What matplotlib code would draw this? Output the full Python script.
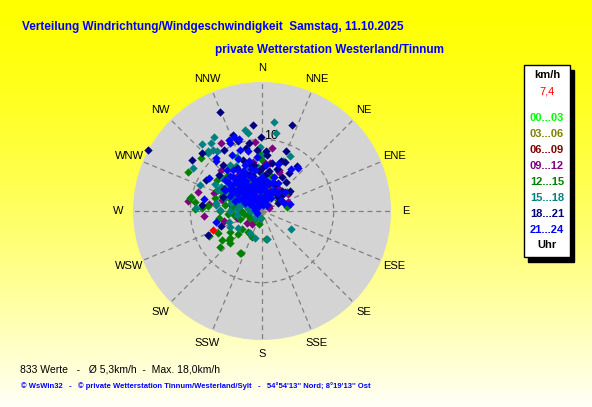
import matplotlib.pyplot as plt
import matplotlib.patches as patches
import numpy as np

# wind direction (deg, from north clockwise) and speed (km/h), grouped by hour
dir_09_12 = [354, 329, 9, 287, 278, 265, 57, 22, 277, 218, 253, 56, 3, 23, 65, 255, 233,
             305, 325, 350, 290, 270, 340, 10, 300, 280, 20, 255, 315, 70, 310, 330, 320, 0,
             295, 345, 285, 35, 15]
spd_09_12 = [9.7, 11.0, 8.9, 9.3, 10.5, 8.1, 4.4, 6.2, 7.5, 2.3, 3.5, 1.2, 6.7, 5.9, 1.1, 3.6, 2.7,
             3.5, 6.0, 7.0, 7.2, 3.0, 2.8, 6.8, 5.8, 4.2, 3.8, 5.5, 8.0, 3.8, 3.0, 3.5, 5.8, 2.5,
             2.2, 4.4, 5.8, 4.0, 3.2]

dir_12_15 = [311, 298, 278, 273, 261, 244, 229, 229, 208, 171, 193, 80, 207, 225, 234, 230, 202,
             245, 272, 280, 215, 228, 237, 262, 56, 358, 52, 296, 281, 295, 226, 207, 359,
             290, 285, 280, 295, 300, 305, 315, 270, 265, 275, 310, 320, 260, 250, 340, 0, 15,
             285, 275, 290, 300, 270, 255, 310, 280, 240, 220, 190, 300, 330]
spd_12_15 = [11.3, 11.7, 9.5, 8.4, 6.1, 6.9, 7.7, 6.1, 6.6, 3.9, 1.8, 3.6, 6.5, 6.3, 6.9, 5.9, 3.9,
             8.1, 9.3, 10.2, 3.5, 3.8, 5.3, 4.0, 2.7, 8.0, 4.4, 6.0, 10.1, 7.0, 4.6, 3.6, 7.3,
             6.0, 6.8, 5.2, 4.2, 6.5, 7.6, 7.0, 5.8, 4.8, 7.5, 5.2, 4.5, 2.5, 3.2, 3.5, 3.5, 5.0,
             3.8, 4.2, 4.8, 3.6, 3.0, 2.0, 6.2, 3.2, 2.0, 1.5, 1.0, 2.6, 3.0]

dir_15_18 = [8, 10, 348, 327, 318, 318, 323, 23, 27, 51, 122, 195, 323, 317, 321, 350, 302, 293,
             252, 234, 277, 209, 170, 335, 2, 358, 273, 272, 243,
             300, 305, 310, 315, 295, 290, 285, 320, 330, 340, 325, 335, 310, 300, 280, 270,
             275, 260, 290, 350, 360, 10, 305, 315, 300, 290, 285, 295, 312, 325, 345, 20,
             280, 300, 320, 340, 0, 270, 230, 200, 330, 355]
spd_15_18 = [12.5, 11.0, 11.5, 12.3, 12.5, 11.3, 10.4, 7.6, 8.6, 4.0, 4.7, 3.9, 11.8, 11.0, 10.9, 11.0, 11.4, 9.4,
             4.9, 4.1, 6.5, 3.5, 3.9, 8.3, 7.9, 9.0, 9.2, 5.8, 5.0,
             5.0, 6.0, 4.0, 6.5, 6.8, 5.5, 4.5, 5.0, 5.8, 6.0, 7.8, 4.6, 7.2, 7.5, 6.5, 4.5,
             3.5, 3.5, 2.5, 4.0, 5.2, 3.0, 3.0, 3.4, 4.2, 3.5, 3.0, 5.8, 5.4, 4.0, 5.4, 4.0,
             2.0, 6.6, 2.6, 3.0, 2.0, 1.5, 1.2, 1.0, 7.2, 6.2]

dir_18_21 = [337, 298, 354, 19, 359, 341, 22, 38, 306, 299, 246, 43, 52, 314, 349, 339, 4, 276,
             250, 22, 328, 346, 21,
             350, 0, 10, 20, 30, 340, 355, 5, 345, 15, 35, 330, 320, 310, 300, 25, 40, 45, 55, 65,
             355, 5, 350, 0, 340, 25, 12, 345, 335, 15, 30, 50, 335, 325, 290, 305]
spd_18_21 = [15.0, 18.0, 12.0, 12.7, 10.3, 10.3, 9.1, 7.9, 12.1, 9.0, 8.2, 3.1, 3.4, 11.6, 9.6, 11.3, 8.4, 8.4,
             6.1, 2.7, 10.0, 9.0, 7.4,
             6.5, 6.0, 5.6, 6.2, 5.5, 7.6, 8.5, 7.8, 5.0, 4.0, 6.5, 7.0, 8.4, 7.8, 6.2, 7.5, 5.2, 4.0, 4.8, 2.5,
             5.6, 5.0, 4.2, 4.0, 5.4, 4.2, 6.8, 6.6, 3.8, 1.5, 3.0, 3.0, 6.0, 5.0, 5.8, 5.0]

dir_21_24 = [339, 35, 70, 257, 335, 342, 40, 347, 319, 282, 358, 40, 335, 332, 317, 302, 340, 19, 60, 75, 50,
             280, 310, 340, 10, 40, 250, 330, 300, 355, 20,
             300, 312, 322, 330, 337, 345, 352, 5, 15, 25, 35, 295,
             298, 300, 308, 315, 320, 325, 337, 340, 350, 355, 2, 8, 15, 25, 30, 40,
             290, 305, 312, 315, 322, 327, 330, 345, 347, 357, 0, 10, 20, 30,
             295, 303, 305, 310, 318, 320, 325, 330, 332, 335, 342, 352, 0, 20, 310, 325,
             300, 310, 315, 318, 320, 328, 330, 335, 340, 345, 350, 5,
             310, 320, 335, 345, 355, 325]
spd_21_24 = [11.1, 7.1, 3.2, 6.6, 10.9, 10.5, 7.8, 8.6, 9.8, 8.3, 1.5, 3.2, 10.5, 8.9, 9.5, 8.7, 9.0, 6.9, 3.0, 4.0, 4.2,
             1.0, 0.8, 1.2, 0.9, 1.1, 0.8, 1.6, 1.4, 1.5, 1.6,
             2.0, 2.0, 2.4, 2.2, 2.4, 1.8, 2.0, 2.0, 2.2, 2.6, 2.2, 2.6,
             3.6, 3.0, 3.2, 2.8, 3.5, 3.0, 3.0, 3.8, 3.2, 2.8, 3.2, 3.6, 2.8, 3.0, 3.4, 3.5,
             4.0, 4.2, 3.9, 4.5, 4.2, 3.6, 4.0, 4.6, 3.9, 3.6, 4.4, 4.2, 4.2, 4.5,
             5.0, 4.8, 5.4, 4.6, 5.0, 5.4, 5.2, 5.0, 4.8, 5.5, 5.2, 4.4, 4.8, 5.0, 5.6, 4.6,
             6.0, 6.0, 5.6, 6.6, 6.2, 5.8, 6.6, 6.2, 6.8, 6.0, 5.8, 6.5,
             6.8, 7.5, 8.0, 7.2, 7.5, 7.0]

dir_other = [318, 8, 7, 15]
spd_other = [3.9, 1.3, 1.2, 1.6]

current_dir = 249
current_spd = 7.4

compass = ['N', 'NNE', 'NE', 'ENE', 'E', 'ESE', 'SE', 'SSE',
           'S', 'SSW', 'SW', 'WSW', 'W', 'WNW', 'NW', 'NNW']
hour_labels = ['00...03', '03...06', '06...09', '09...12', '12...15', '15...18', '18...21', '21...24']
hour_colors = ['#00FF00', '#808000', '#800000', '#800080', '#008000', '#008080', '#000080', '#0000FF']

fig = plt.figure(figsize=(5.92, 4.07), dpi=100)

# yellow -> pale background
bg = fig.add_axes([0, 0, 1, 1])
bg.axis('off')
t = np.linspace(0, 1, 256) ** 1.4
grad = np.zeros((256, 2, 3))
grad[:, :, 0] = 1.0
grad[:, :, 1] = 1.0
grad[:, :, 2] = (t * 0.97)[:, None]
bg.imshow(grad, aspect='auto', extent=[0, 1, 0, 1], origin='upper')
bg.set_xlim(0, 1)
bg.set_ylim(0, 1)

ax = fig.add_axes([0.2247, 0.1646, 0.4358, 0.6339], projection='polar')
ax.set_theta_zero_location('N')
ax.set_theta_direction(-1)
ax.set_ylim(0, 18)
ax.set_facecolor('#D4D4D4')
ax.spines['polar'].set_visible(False)
ax.set_xticks(np.deg2rad(np.arange(0, 360, 22.5)))
ax.set_xticklabels([])
ax.set_yticks([10])
ax.set_yticklabels([])
ax.grid(True, color='#808080', linestyle=(0, (4, 3)), linewidth=0.9)

for i, name in enumerate(compass):
    ax.text(np.deg2rad(i * 22.5), 20.0, name, ha='center', va='center',
            fontsize=8, family='Liberation Sans', clip_on=False)
ax.text(np.deg2rad(7), 10.6, '10', ha='center', va='center', fontsize=9, family='Liberation Sans')

# drawn in time order, latest hours on top
groups = [(dir_09_12, spd_09_12, hour_colors[3]),
          (dir_other, spd_other, '#FF00FF'),
          (dir_12_15, spd_12_15, hour_colors[4]),
          (dir_15_18, spd_15_18, hour_colors[5]),
          (dir_18_21, spd_18_21, hour_colors[6]),
          (dir_21_24, spd_21_24, hour_colors[7])]
for d, s, c in groups:
    ax.scatter(np.deg2rad(d), s, marker='D', s=18, c=c, linewidths=0, zorder=3, clip_on=False)
ax.scatter(np.deg2rad([current_dir]), [current_spd], marker='D', s=18, c='#FF0000',
           linewidths=0, zorder=4)

# titles
fig.text(22 / 592, 1 - 27 / 407, 'Verteilung Windrichtung/Windgeschwindigkeit  Samstag, 11.10.2025',
         color='#0000FF', fontsize=8.5, fontweight='bold', family='Liberation Sans', va='center')
fig.text(215 / 592, 1 - 50 / 407, 'private Wetterstation Westerland/Tinnum',
         color='#0000FF', fontsize=8.5, fontweight='bold', family='Liberation Sans', va='center')

# legend box with shadow
bx, by, bw, bh = 524, 65, 46, 192
fig.patches.append(patches.Rectangle(((bx + 4) / 592, 1 - (by + bh + 5) / 407), bw / 592, bh / 407,
                                     transform=fig.transFigure, facecolor='black', edgecolor='black'))
fig.patches.append(patches.Rectangle((bx / 592, 1 - (by + bh) / 407), bw / 592, bh / 407,
                                     transform=fig.transFigure, facecolor='white', edgecolor='black',
                                     linewidth=1))
cx = 547 / 592
fig.text(cx, 1 - 75 / 407, 'km/h', ha='center', va='center', fontsize=8, fontweight='bold',
         family='Liberation Sans')
fig.text(cx, 1 - 92 / 407, '7,4', ha='center', va='center', fontsize=8, color='#FF0000',
         family='Liberation Sans')
for i, (lab, col) in enumerate(zip(hour_labels, hour_colors)):
    fig.text(cx, 1 - (118 + 16 * i) / 407, lab, ha='center', va='center', fontsize=8,
             fontweight='bold', color=col, family='Liberation Sans')
fig.text(cx, 1 - 245 / 407, 'Uhr', ha='center', va='center', fontsize=8, fontweight='bold',
         family='Liberation Sans')

# footer
fig.text(20 / 592, 1 - 369 / 407, '833 Werte   -   Ø 5,3km/h  -  Max. 18,0km/h',
         fontsize=7.5, family='Liberation Sans', va='center')
fig.text(21 / 592, 1 - 386 / 407,
         "© WsWin32   -   © private Wetterstation Tinnum/Westerland/Sylt   -   54°54'13'' Nord; 8°19'13'' Ost",
         fontsize=5.5, fontweight='bold', color='#0000FF', family='Liberation Sans', va='center')

fig.savefig('out.png', dpi=100)
